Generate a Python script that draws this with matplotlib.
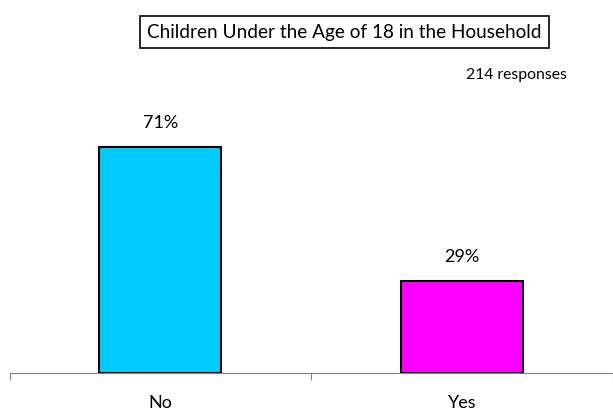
import numpy as np
import matplotlib.pyplot as plt

categories = ['No', 'Yes']
percents = [71, 29]
bar_colors = ['#00CCFF', '#FF00FF']
title = 'Children Under the Age of 18 in the Household'
responses = '214 responses'

plt.rcParams['font.family'] = ['Lato', 'DejaVu Sans']

fig = plt.figure(figsize=(6.13, 4.12), dpi=100)
ax = fig.add_axes([0.0155, 0.0947, 0.9845, 0.618])

x = np.arange(len(categories))
ax.bar(x, percents, width=0.405, color=bar_colors, edgecolor='black', linewidth=1.5, zorder=3)

for xi, p in zip(x, percents):
    ax.annotate('{}%'.format(p), (xi, p), xytext=(0, 17), textcoords='offset points',
                ha='center', va='center', fontsize=13)

ax.set_xlim(-0.5, 1.485)
ax.set_ylim(0, 80)

for side in ['top', 'right', 'left']:
    ax.spines[side].set_visible(False)
ax.spines['bottom'].set_color('#808080')
ax.spines['bottom'].set_linewidth(0.8)

ax.set_yticks([])
ax.set_xticks(x)
ax.set_xticklabels(categories, fontsize=13)
ax.tick_params(axis='x', which='major', length=0, pad=16)
ax.set_xticks([-0.5, 0.5, 1.5], minor=True)
ax.tick_params(axis='x', which='minor', length=5, width=0.8, color='#808080', direction='out')

fig.text(0.562, 0.922, title, ha='center', va='center', fontsize=13.7,
         bbox=dict(boxstyle='square,pad=0.4', facecolor='white', edgecolor='black', linewidth=1.2))
fig.text(0.843, 0.818, responses, ha='center', va='center', fontsize=11.3)

fig.savefig('out.png', dpi=100)
